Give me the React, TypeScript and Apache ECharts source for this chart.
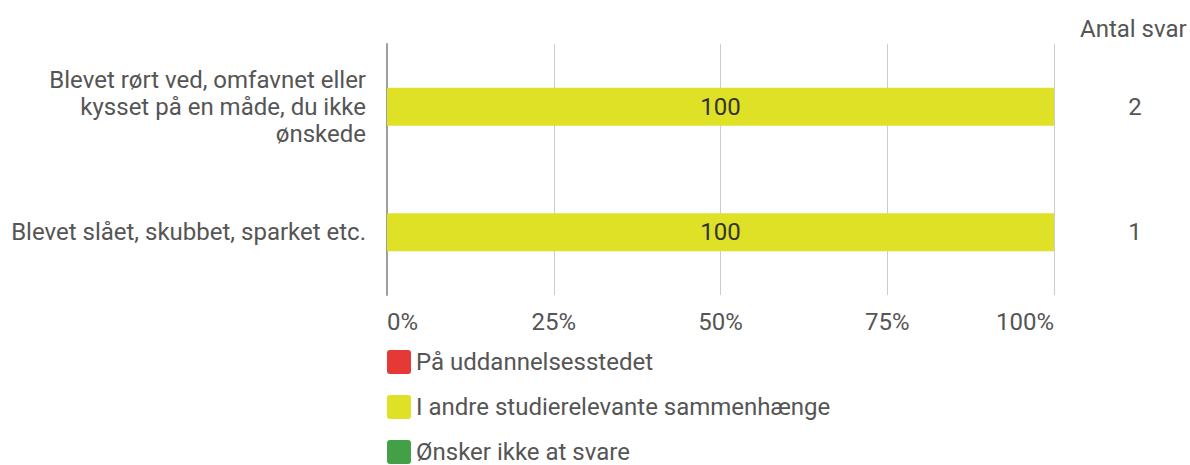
import React, { useEffect, useRef } from "react";
import * as echarts from "echarts";

const categories = [
  "Blevet rørt ved, omfavnet eller\nkysset på en måde, du ikke\nønskede",
  "Blevet slået, skubbet, sparket etc.",
];
const seriesNames = [
  "På uddannelsesstedet",
  "I andre studierelevante sammenhænge",
  "Ønsker ikke at svare",
];
const seriesColors = ["#E53935", "#DFE126", "#43A047"];
const seriesValues = [
  [0, 0],
  [100, 100],
  [0, 0],
];
const answerCounts = ["2", "1"];
const xTicks = [0, 25, 50, 75, 100];

// Square legend swatch with slightly rounded corners
const swatchIcon =
  "path://M3,0 H21 A3,3 0 0 1 24,3 V21 A3,3 0 0 1 21,24 H3 A3,3 0 0 1 0,21 V3 A3,3 0 0 1 3,0 Z";

export default function App() {
  const ref = useRef<HTMLDivElement>(null);

  useEffect(() => {
    if (!ref.current) return;
    const chart = echarts.init(ref.current, null, { renderer: "svg" });
    const font = "Roboto, 'Noto Sans', sans-serif";
    const textColor = "#555555";
    const fs = 24;

    chart.setOption({
      animation: false,
      textStyle: { fontFamily: font },
      title: {
        text: "Antal svar",
        left: 1080,
        top: 17,
        padding: 0,
        textStyle: { fontSize: fs, fontWeight: "normal", color: textColor, fontFamily: font },
      },
      legend: {
        orient: "vertical",
        left: 387,
        top: 350,
        height: 140,
        padding: 0,
        itemWidth: 24,
        itemHeight: 24,
        itemGap: 21,
        icon: swatchIcon,
        data: seriesNames,
        textStyle: { fontSize: fs, color: textColor, fontFamily: font, lineHeight: 24 },
        selectedMode: false,
      },
      grid: { left: 387, right: 136, top: 44, bottom: 170, containLabel: false },
      xAxis: {
        type: "value",
        min: xTicks[0],
        max: xTicks[xTicks.length - 1],
        interval: 25,
        axisLine: { show: false },
        axisTick: { show: false },
        splitLine: { show: true, lineStyle: { color: "#cccccc", width: 1 } },
        axisLabel: {
          formatter: "{value}%",
          fontSize: fs,
          color: textColor,
          margin: 15,
          alignMinLabel: "left",
          alignMaxLabel: "right",
          fontFamily: font,
        },
      },
      yAxis: [
        {
          type: "category",
          data: categories,
          inverse: true,
          axisLine: { show: true, lineStyle: { color: "#9e9e9e", width: 2 } },
          axisTick: { show: false },
          axisLabel: {
            fontSize: fs,
            color: textColor,
            lineHeight: 27,
            margin: 21,
            align: "right",
            fontFamily: font,
          },
        },
        {
          type: "category",
          data: answerCounts,
          inverse: true,
          position: "right",
          axisLine: { show: false },
          axisTick: { show: false },
          axisLabel: {
            fontSize: fs,
            color: textColor,
            margin: 81,
            align: "center",
            fontFamily: font,
          },
        },
      ],
      series: seriesNames.map((name, i) => ({
        name,
        type: "bar",
        stack: "total",
        yAxisIndex: 0,
        barWidth: 38,
        data: seriesValues[i],
        itemStyle: { color: seriesColors[i] },
        label: {
          show: true,
          position: "inside",
          fontSize: fs,
          color: "#333333",
          fontFamily: font,
          formatter: (p: any) => (p.value > 0 ? String(p.value) : ""),
        },
      })),
    });

    return () => chart.dispose();
  }, []);

  return (
    <div
      ref={ref}
      style={{ position: "fixed", left: 0, top: 0, width: 1190, height: 465, background: "#fff" }}
    />
  );
}
